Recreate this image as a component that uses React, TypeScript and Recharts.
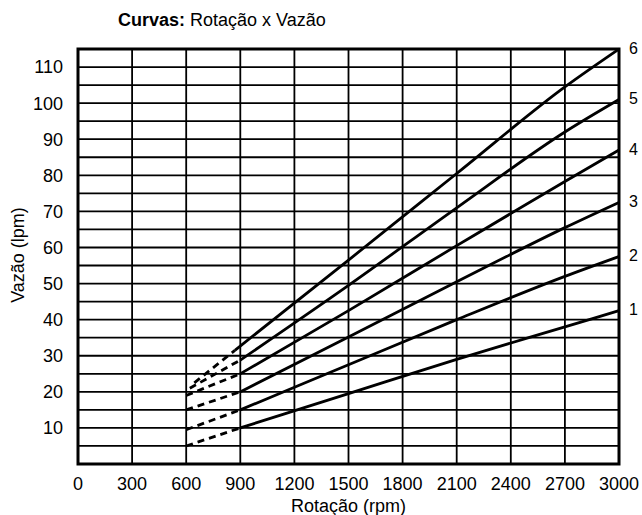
import { LineChart, Line, XAxis, YAxis, CartesianGrid, ReferenceArea } from 'recharts'

document.body.style.margin = '0'

// curvas Rotação x Vazão (1..6)
const curveNames = ['1', '2', '3', '4', '5', '6']
const dashStartRpm = [600, 600, 600, 600, 620, 645]
const dashStartFlow = [5, 9.5, 15, 19, 21, 22.5]
const joinRpm = [900, 900, 900, 900, 900, 870]
const joinFlow = [10, 15, 20, 25, 28.8, 31.5]
const solidRpm = [1500, 2100, 2700, 3000]
const solidFlow = [
  [19.5, 29, 38, 42.5],
  [27.5, 40, 52, 57.5],
  [35.2, 50.5, 65.5, 72.5],
  [42.5, 60.5, 78.3, 87],
  [49.5, 71, 92, 101],
  [56.5, 80.5, 104.5, 115],
]
const xTicks = [0, 300, 600, 900, 1200, 1500, 1800, 2100, 2400, 2700, 3000]
const yTicks = [0, 5, 10, 15, 20, 25, 30, 35, 40, 45, 50, 55, 60, 65, 70, 75, 80, 85, 90, 95, 100, 105, 110, 115]

const font = '"Liberation Sans", Arial, Helvetica, sans-serif'

const endLabel = (name: string, last: number) => (p: any) =>
  p.index === last ? (
    <text x={p.x + 10} y={p.y} dy={-1} dominantBaseline="central" fontSize={16} fill="#000" fontFamily={font}>
      {name}
    </text>
  ) : null

export default function App() {
  const dashed = curveNames.map((_, i) => [
    { x: dashStartRpm[i], y: dashStartFlow[i] },
    { x: joinRpm[i], y: joinFlow[i] },
  ])
  const solid = curveNames.map((_, i) => [
    { x: joinRpm[i], y: joinFlow[i] },
    ...solidRpm.map((r, j) => ({ x: r, y: solidFlow[i][j] })),
  ])

  return (
    <div style={{ position: 'relative', width: 642, height: 515, overflow: 'hidden', fontFamily: font, color: '#000' }}>
      <div style={{ position: 'absolute', left: 118, top: 11, fontSize: 18, lineHeight: 1, whiteSpace: 'nowrap' }}>
        <b>Curvas:</b> Rotação x Vazão
      </div>
      <LineChart width={642} height={515} margin={{ top: 49, right: 23, bottom: 4, left: 0 }}>
        <CartesianGrid stroke="#000" strokeWidth={1.8} />
        <XAxis
          type="number" dataKey="x" domain={[0, 3000]} ticks={xTicks} interval={0}
          tickLine={false} axisLine={false} height={47} tickMargin={7}
          tick={{ fontSize: 18, fill: '#000', fontFamily: font }}
        />
        <YAxis
          type="number" domain={[0, 115]} ticks={yTicks} interval={0} width={78}
          tickLine={false} axisLine={false} tickMargin={9}
          tickFormatter={(v: number) => (v > 0 && v <= 110 && v % 10 === 0 ? String(v) : '')}
          tick={{ fontSize: 18, fill: '#000', fontFamily: font }}
        />
        {dashed.map((d, i) => (
          <Line key={'d' + i} data={d} dataKey="y" type="linear" stroke="#000" strokeWidth={2.8}
            strokeDasharray="7 5" dot={false} isAnimationActive={false} />
        ))}
        {solid.map((d, i) => (
          <Line key={'s' + i} data={d} dataKey="y" type="monotone" stroke="#000" strokeWidth={2.8}
            dot={false} isAnimationActive={false} label={endLabel(curveNames[i], d.length - 1)} />
        ))}
        <ReferenceArea x1={0} x2={3000} y1={0} y2={115} fill="none" stroke="#000" strokeWidth={3} ifOverflow="visible" />
      </LineChart>
      <div style={{ position: 'absolute', left: 78, width: 541, top: 497, textAlign: 'center', fontSize: 18, lineHeight: 1 }}>
        Rotação (rpm)
      </div>
      <div style={{ position: 'absolute', left: 18, top: 255, fontSize: 18, lineHeight: 1, whiteSpace: 'nowrap', transform: 'translate(-50%, -50%) rotate(-90deg)' }}>
        Vazão (lpm)
      </div>
    </div>
  )
}
